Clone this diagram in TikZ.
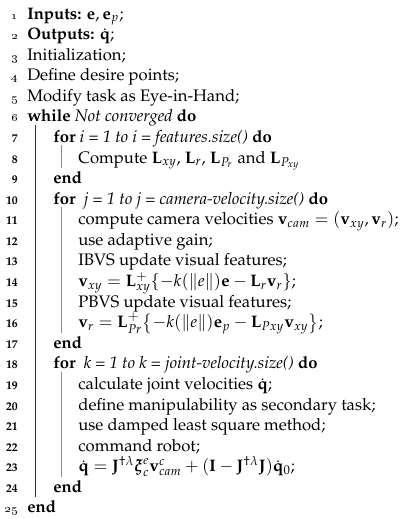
\documentclass[tikz,border=0pt]{standalone}
\usepackage[T1]{fontenc}
\usepackage{mathpazo}
\usepackage{amsmath}
\begin{document}
\begin{tikzpicture}[x=0.6pt,y=-0.6pt,
  lnum/.style={anchor=base east,font=\scriptsize,inner sep=0pt},
  txt/.style={anchor=base west,inner sep=0pt},
  barone/.style={draw=black!80,line width=0.6pt},
  bartwo/.style={draw=black!45,line width=0.6pt}]
\useasboundingbox (0,0) rectangle (404,519);
% line numbers
\foreach \i in {1,...,6,25}{
  \pgfmathsetmacro\yy{19+(\i-1)*20.58}
  \node[lnum] (n\i) at (18,\yy) {\oldstylenums{\i}};
}
\foreach \i in {7,...,24}{
  \pgfmathsetmacro\yy{19+(\i-1)*20.58}
  \node[lnum,font=\scriptsize\bfseries] (n\i) at (18,\yy) {\i};
}
\newcommand\lvlx[1]{\ifcase#1 27\or 53\or 78\fi}
\newcommand\algline[3]{%
  \pgfmathsetmacro\yy{19+(#1-1)*20.58}%
  \node[txt] (l#1) at (\lvlx{#2},\yy) {#3};}
\algline{1}{0}{\textbf{Inputs:} $\mathbf{e},\mathbf{e}_p$;}
\algline{2}{0}{\textbf{Outputs:} $\dot{\mathbf{q}}$;}
\algline{3}{0}{Initialization;}
\algline{4}{0}{Define desire points;}
\algline{5}{0}{Modify task as Eye-in-Hand;}
\algline{6}{0}{\textbf{while} \textit{Not converged} \textbf{do}}
\algline{7}{1}{\textbf{for} \textit{i = 1 to i = features.size()} \textbf{do}}
\algline{8}{2}{Compute $\mathbf{L}_{xy}$, $\mathbf{L}_r$, $\mathbf{L}_{P_r}$ and $\mathbf{L}_{P_{xy}}$}
\algline{9}{1}{\textbf{end}}
\algline{10}{1}{\textbf{for}\ \ \textit{j = 1 to j = camera-velocity.size()} \textbf{do}}
\algline{11}{2}{compute camera velocities $\mathbf{v}_{cam}=(\mathbf{v}_{xy},\mathbf{v}_r)$;}
\algline{12}{2}{use adaptive gain;}
\algline{13}{2}{IBVS update visual features;}
\algline{14}{2}{$\mathbf{v}_{xy}=\mathbf{L}_{xy}^{+}\{-k(\|e\|)\mathbf{e}-\mathbf{L}_r\mathbf{v}_r\}$;}
\algline{15}{2}{PBVS update visual features;}
\algline{16}{2}{$\mathbf{v}_r=\mathbf{L}_{Pr}^{+}\bigl\{-k(\|e\|)\mathbf{e}_p-\mathbf{L}_{Pxy}\mathbf{v}_{xy}\bigr\}$;}
\algline{17}{1}{\textbf{end}}
\algline{18}{1}{\textbf{for}\ \ \textit{k = 1 to k = joint-velocity.size()} \textbf{do}}
\algline{19}{2}{calculate joint velocities $\dot{\mathbf{q}}$;}
\algline{20}{2}{define manipulability as secondary task;}
\algline{21}{2}{use damped least square method;}
\algline{22}{2}{command robot;}
\algline{23}{2}{$\dot{\mathbf{q}}=\mathbf{J}^{\dagger\lambda}\boldsymbol{\xi}_c^e\mathbf{v}_{cam}^c+(\mathbf{I}-\mathbf{J}^{\dagger\lambda}\mathbf{J})\dot{\mathbf{q}}_0$;}
\algline{24}{1}{\textbf{end}}
\algline{25}{0}{\textbf{end}}
% block bars
\coordinate (b1s) at (35,{19+5*20.58+3});
\coordinate (b1e) at (35,{19+23*20.58+5});
\draw[barone] (b1s) -- (b1e);
\coordinate (b2s) at (61.5,{19+6*20.58+3});
\coordinate (b2e) at (61.5,{19+7*20.58+5});
\draw[bartwo] (b2s) -- (b2e);
\coordinate (b3s) at (61.5,{19+9*20.58+3});
\coordinate (b3e) at (61.5,{19+15*20.58+5});
\draw[bartwo] (b3s) -- (b3e);
\coordinate (b4s) at (61.5,{19+17*20.58+3});
\coordinate (b4e) at (61.5,{19+22*20.58+5});
\draw[bartwo] (b4s) -- (b4e);
\end{tikzpicture}
\end{document}
